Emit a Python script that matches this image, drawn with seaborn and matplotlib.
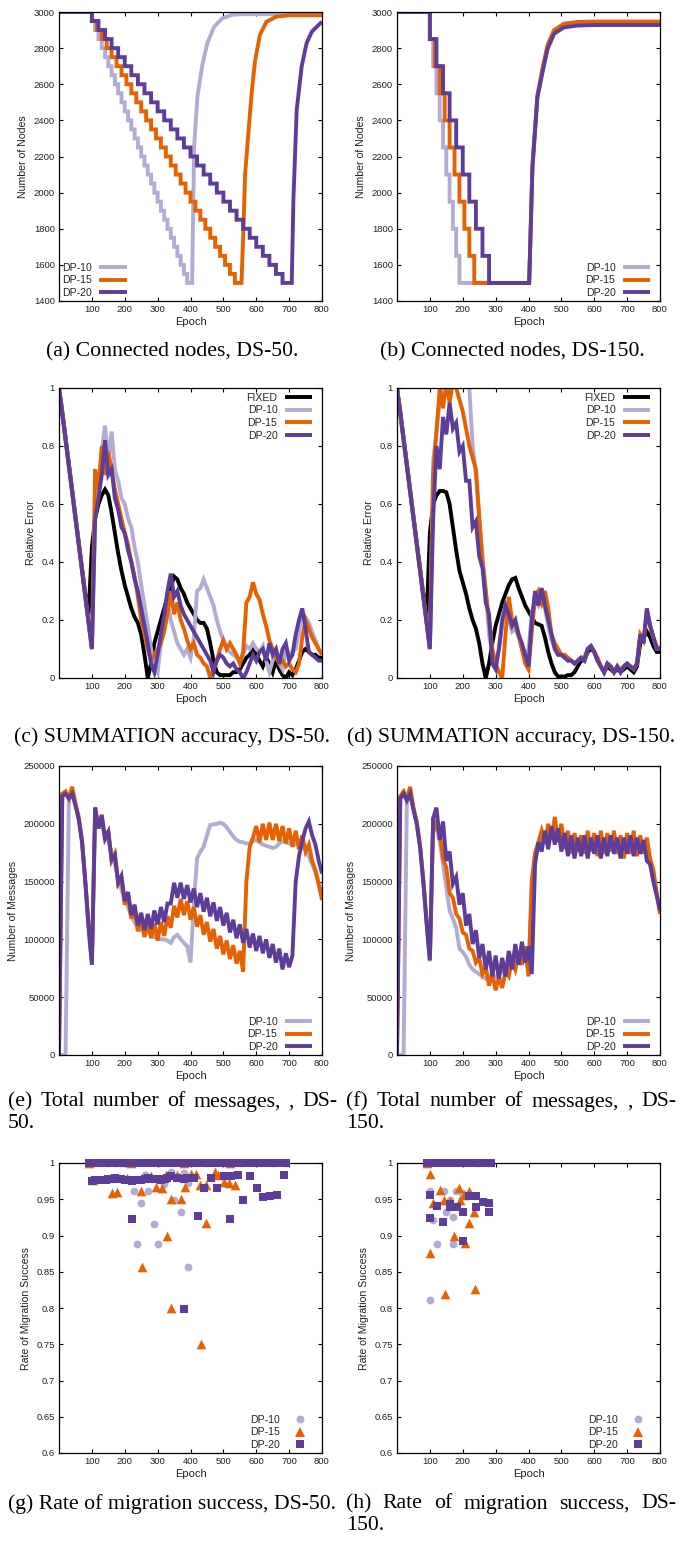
import matplotlib
matplotlib.use("Agg")
import matplotlib.pyplot as plt
from matplotlib.lines import Line2D
import seaborn as sns

sns.set_theme(style="white")
plt.rcParams['font.family'] = ['Liberation Sans', 'DejaVu Sans']

W, H = 688, 1543
C_DP10 = "#b2abd2"
C_DP15 = "#e66101"
C_DP20 = "#5e3c99"
C_FIXED = "#000000"
LW = 2.8

XTICKS = [100, 200, 300, 400, 500, 600, 700, 800]

# ---------------- (a) Connected nodes, DS-50 ----------------
LEVELS_50 = [3000, 2950, 2900, 2850, 2800, 2750, 2700, 2650, 2600, 2550, 2500,
             2450, 2400, 2350, 2300, 2250, 2200, 2150, 2100, 2050, 2000,
             1950, 1900, 1850, 1800, 1750, 1700, 1650, 1600, 1550, 1500]
A_STEPS_DP10 = [100, 110, 120, 130, 140, 150, 160, 170, 180, 190, 200, 210, 220, 230, 240,
                250, 260, 270, 280, 290, 300, 310, 320, 330, 340, 350, 360, 370, 380, 390]
A_STEPS_DP15 = [100, 115, 130, 145, 160, 175, 190, 205, 220, 235, 250, 265, 280, 295, 310,
                325, 340, 355, 370, 385, 400, 415, 430, 445, 460, 475, 490, 505, 520, 535]
A_STEPS_DP20 = [100, 120, 140, 160, 180, 200, 220, 240, 260, 280, 300, 320, 340, 360, 380,
                400, 420, 440, 460, 480, 500, 520, 540, 560, 580, 600, 620, 640, 660, 680]
A_RISE_DP10_E = [405, 411, 421, 436, 451, 472, 497, 527, 560, 800]
A_RISE_DP10_N = [1500, 2255, 2531, 2707, 2827, 2919, 2965, 2985, 2988, 2988]
A_RISE_DP15_E = [555, 561, 566, 576, 586, 596, 611, 631, 662, 700, 800]
A_RISE_DP15_N = [1500, 1793, 2100, 2328, 2550, 2725, 2873, 2946, 2975, 2982, 2982]
A_RISE_DP20_E = [708, 713, 723, 738, 753, 769, 785, 800]
A_RISE_DP20_N = [1500, 1960, 2458, 2697, 2827, 2891, 2920, 2946]

# ---------------- (b) Connected nodes, DS-150 ----------------
LEVELS_150 = [3000, 2850, 2700, 2550, 2400, 2250, 2100, 1950, 1800, 1650, 1500]
B_STEPS_DP10 = [100, 110, 120, 130, 140, 150, 160, 170, 180, 190]
B_STEPS_DP15 = [100, 115, 130, 145, 160, 175, 190, 205, 220, 235]
B_STEPS_DP20 = [100, 120, 140, 160, 180, 200, 220, 240, 260, 280]
B_RISE_E = [402, 412, 427, 443, 458, 478, 508, 549, 600, 800]
B_RISE_DP10_N = [1500, 2144, 2531, 2679, 2808, 2895, 2932, 2943, 2945, 2945]
B_RISE_DP15_N = [1500, 2150, 2540, 2690, 2818, 2900, 2935, 2945, 2947, 2947]
B_RISE_DP20_N = [1500, 2140, 2525, 2670, 2795, 2880, 2915, 2925, 2928, 2928]

# ---------------- shared epoch grid for noisy series ----------------
GRID = [0, 10, 20, 30, 40, 50, 60, 70, 80, 90,
        100, 110, 120, 130, 140, 150, 160, 170, 180, 190,
        200, 210, 220, 230, 240, 250, 260, 270, 280, 290,
        300, 310, 320, 330, 340, 350, 360, 370, 380, 390,
        400, 410, 420, 430, 440, 450, 460, 470, 480, 490,
        500, 510, 520, 530, 540, 550, 560, 570, 580, 590,
        600, 610, 620, 630, 640, 650, 660, 670, 680, 690,
        700, 710, 720, 730, 740, 750, 760, 770, 780, 790,
        800]

# ---------------- (c) SUMMATION accuracy, DS-50 ----------------
C_ERR_FIXED = [1.0, 0.92, 0.83, 0.74, 0.65, 0.56, 0.47, 0.38, 0.29, 0.22,
               0.45, 0.55, 0.6, 0.63, 0.65, 0.63, 0.57, 0.5, 0.43, 0.37,
               0.32, 0.28, 0.24, 0.21, 0.19, 0.15, 0.08, 0.0, 0.05, 0.12,
               0.16, 0.2, 0.24, 0.28, 0.31, 0.35, 0.34, 0.31, 0.29, 0.26,
               0.24, 0.22, 0.2, 0.19, 0.19, 0.17, 0.12, 0.06, 0.02, 0.01,
               0.01, 0.01, 0.01, 0.02, 0.02, 0.03, 0.05, 0.07, 0.08, 0.1,
               0.08, 0.06, 0.04, 0.07, 0.05, 0.02, 0.06, 0.03, 0.01, 0.0,
               0.02, 0.01, 0.03, 0.06, 0.09, 0.1, 0.09, 0.08, 0.08, 0.07,
               0.07]
C_ERR_DP10 = [1.0, 0.91, 0.82, 0.73, 0.64, 0.55, 0.46, 0.37, 0.28, 0.19,
              0.1, 0.55, 0.65, 0.78, 0.87, 0.75, 0.85, 0.72, 0.68, 0.62,
              0.6, 0.55, 0.52, 0.45, 0.4, 0.32, 0.25, 0.18, 0.1, 0.04,
              0.02, 0.12, 0.2, 0.26, 0.2, 0.16, 0.12, 0.1, 0.08, 0.1,
              0.07, 0.14, 0.3, 0.31, 0.34, 0.31, 0.28, 0.25, 0.2, 0.16,
              0.13, 0.1, 0.09, 0.08, 0.07, 0.06, 0.08, 0.11, 0.1, 0.12,
              0.1, 0.09, 0.11, 0.06, 0.02, 0.06, 0.1, 0.05, 0.03, 0.1,
              0.08, 0.09, 0.1, 0.16, 0.22, 0.21, 0.19, 0.16, 0.13, 0.1,
              0.08]
C_ERR_DP15 = [1.0, 0.91, 0.82, 0.73, 0.64, 0.55, 0.46, 0.37, 0.28, 0.19,
              0.1, 0.72, 0.65, 0.8, 0.7, 0.78, 0.72, 0.65, 0.6, 0.55,
              0.5, 0.46, 0.4, 0.35, 0.28, 0.2, 0.15, 0.1, 0.06, 0.08,
              0.1, 0.12, 0.16, 0.22, 0.3, 0.22, 0.26, 0.2, 0.17, 0.13,
              0.1, 0.12, 0.08, 0.07, 0.05, 0.04, 0.0, 0.03, 0.06, 0.1,
              0.13, 0.1, 0.12, 0.1, 0.08, 0.05, 0.09, 0.26, 0.28, 0.33,
              0.29, 0.27, 0.22, 0.18, 0.13, 0.1, 0.07, 0.05, 0.06, 0.04,
              0.05, 0.03, 0.02, 0.05, 0.14, 0.2, 0.17, 0.14, 0.12, 0.1,
              0.08]
C_ERR_DP20 = [1.0, 0.91, 0.82, 0.73, 0.64, 0.55, 0.46, 0.37, 0.28, 0.19,
              0.1, 0.55, 0.62, 0.7, 0.82, 0.7, 0.72, 0.62, 0.58, 0.52,
              0.5, 0.44, 0.4, 0.34, 0.3, 0.24, 0.18, 0.12, 0.05, 0.02,
              0.08, 0.15, 0.22, 0.3, 0.36, 0.28, 0.3, 0.25, 0.22, 0.2,
              0.18, 0.16, 0.14, 0.12, 0.1, 0.08, 0.06, 0.02, 0.06, 0.08,
              0.07, 0.05, 0.04, 0.05, 0.03, 0.02, 0.0, 0.02, 0.05, 0.08,
              0.06, 0.09, 0.1, 0.06, 0.12, 0.08, 0.1, 0.05, 0.1, 0.12,
              0.06, 0.08, 0.15, 0.2, 0.24, 0.17, 0.09, 0.08, 0.07, 0.06,
              0.06]

# ---------------- (d) SUMMATION accuracy, DS-150 ----------------
D_ERR_FIXED = [1.0, 0.92, 0.83, 0.74, 0.65, 0.56, 0.47, 0.38, 0.29, 0.2,
               0.5, 0.6, 0.63, 0.645, 0.645, 0.64, 0.6, 0.52, 0.44, 0.37,
               0.33, 0.29, 0.24, 0.2, 0.17, 0.12, 0.05, 0.0, 0.05, 0.12,
               0.18, 0.22, 0.26, 0.29, 0.32, 0.34, 0.345, 0.31, 0.28, 0.25,
               0.23, 0.21, 0.19, 0.185, 0.18, 0.14, 0.09, 0.05, 0.02, 0.005,
               0.005, 0.005, 0.01, 0.01, 0.02, 0.04, 0.06, 0.06, 0.09, 0.1,
               0.09, 0.06, 0.04, 0.02, 0.04, 0.03, 0.02, 0.03, 0.02, 0.03,
               0.04, 0.03, 0.02, 0.04, 0.12, 0.14, 0.16, 0.14, 0.11, 0.09,
               0.09]
D_ERR_DP10 = [1.0, 0.91, 0.82, 0.73, 0.64, 0.55, 0.46, 0.37, 0.28, 0.19,
              0.1, 0.75, 0.85, 0.95, 1.05, 1.1, 1.1, 1.1, 1.1, 1.1,
              1.1, 1.05, 1.0, 0.8, 0.7, 0.55, 0.42, 0.3, 0.15, 0.08,
              0.05, 0.1, 0.18, 0.24, 0.2, 0.16, 0.17, 0.14, 0.1, 0.06,
              0.1, 0.22, 0.27, 0.25, 0.28, 0.24, 0.18, 0.13, 0.1, 0.08,
              0.08, 0.07, 0.06, 0.06, 0.05, 0.06, 0.07, 0.06, 0.1, 0.11,
              0.09, 0.06, 0.04, 0.02, 0.05, 0.04, 0.02, 0.04, 0.02, 0.04,
              0.05, 0.04, 0.03, 0.05, 0.15, 0.12, 0.24, 0.18, 0.14, 0.1,
              0.1]
D_ERR_DP15 = [1.0, 0.91, 0.82, 0.73, 0.64, 0.55, 0.46, 0.37, 0.28, 0.19,
              0.1, 0.7, 0.85, 1.0, 0.93, 1.02, 0.95, 1.02, 1.0, 0.96,
              0.92, 0.86, 0.8, 0.76, 0.72, 0.56, 0.4, 0.3, 0.2, 0.1,
              0.05, 0.02, 0.0, 0.15, 0.28, 0.2, 0.18, 0.15, 0.1, 0.05,
              0.03, 0.16, 0.28, 0.3, 0.26, 0.3, 0.24, 0.15, 0.12, 0.1,
              0.08, 0.08, 0.07, 0.06, 0.05, 0.06, 0.07, 0.07, 0.1, 0.11,
              0.09, 0.07, 0.04, 0.02, 0.05, 0.04, 0.02, 0.04, 0.03, 0.04,
              0.05, 0.04, 0.03, 0.05, 0.15, 0.13, 0.23, 0.18, 0.14, 0.11,
              0.1]
D_ERR_DP20 = [1.0, 0.91, 0.82, 0.73, 0.64, 0.55, 0.46, 0.37, 0.28, 0.19,
              0.1, 0.55, 0.8, 0.72, 0.9, 0.84, 0.95, 0.86, 0.88, 0.78,
              0.8, 0.68, 0.68, 0.52, 0.54, 0.42, 0.38, 0.26, 0.22, 0.05,
              0.03, 0.1, 0.2, 0.25, 0.22, 0.18, 0.2, 0.15, 0.12, 0.08,
              0.04, 0.2, 0.3, 0.25, 0.31, 0.25, 0.2, 0.15, 0.1, 0.08,
              0.08, 0.07, 0.06, 0.06, 0.05, 0.06, 0.07, 0.06, 0.1, 0.11,
              0.09, 0.06, 0.04, 0.02, 0.05, 0.04, 0.02, 0.04, 0.02, 0.04,
              0.05, 0.04, 0.03, 0.05, 0.15, 0.12, 0.24, 0.18, 0.14, 0.1,
              0.1]

# ---------------- (e) Total number of messages, DS-50 ----------------
E_MSG_DP10 = [0, 0, 0, 222000, 226000, 216000, 204000, 185000, 150000, 112000,
              80000, 206000, 203000, 200000, 192000, 185000, 175000, 165000, 152000, 143000,
              135000, 128000, 120000, 115000, 110000, 108000, 107000, 106000, 104000, 102000,
              101000, 100000, 100000, 99000, 97000, 102000, 104000, 100000, 97000, 94000,
              80000, 130000, 170000, 176000, 180000, 190000, 199000, 199500, 200000, 201000,
              200000, 197000, 193000, 189000, 186000, 184500, 184000, 183000, 183000, 185000,
              186000, 184000, 182000, 181000, 180000, 179000, 180000, 183000, 185000, 184000,
              183000, 182000, 182000, 181000, 180000, 178000, 172000, 165000, 158000, 148000,
              140000]
E_MSG_DP15 = [0, 226000, 228000, 222000, 232000, 218000, 206000, 186000, 150000, 112000,
              80000, 214000, 196000, 208000, 186000, 194000, 168000, 174000, 148000, 152000,
              130000, 138000, 118000, 126000, 107000, 118000, 102000, 115000, 101000, 114000,
              99000, 115000, 103000, 120000, 110000, 129000, 119000, 135000, 121000, 133000,
              117000, 128000, 111000, 121000, 104000, 115000, 98000, 109000, 92000, 103000,
              87000, 99000, 83000, 95000, 79000, 90000, 72000, 150000, 180000, 188000,
              198000, 184000, 200000, 186000, 201000, 186000, 200000, 185000, 198000, 183000,
              196000, 180000, 194000, 178000, 190000, 176000, 182000, 168000, 160000, 148000,
              134000]
E_MSG_DP20 = [0, 224000, 226000, 222000, 226000, 216000, 204000, 184000, 150000, 110000,
              78000, 214000, 196000, 207000, 187000, 193000, 169000, 173000, 149000, 155000,
              133000, 141000, 121000, 130000, 112000, 123000, 108000, 122000, 109000, 125000,
              113000, 128000, 115000, 131000, 131000, 149000, 136000, 149000, 135000, 147000,
              132000, 144000, 128000, 140000, 124000, 136000, 120000, 132000, 116000, 128000,
              112000, 123000, 106000, 117000, 101000, 113000, 97000, 109000, 93000, 105000,
              90000, 103000, 88000, 100000, 84000, 96000, 80000, 92000, 74000, 88000,
              76000, 86000, 150000, 172000, 185000, 196000, 202000, 190000, 182000, 168000,
              157000]

# ---------------- (f) Total number of messages, DS-150 ----------------
F_MSG_DP10 = [0, 0, 0, 220000, 224000, 214000, 200000, 180000, 150000, 115000,
              81000, 200000, 195000, 185000, 165000, 145000, 125000, 118000, 110000, 92000,
              89000, 85000, 78000, 74000, 72000, 70000, 68000, 66000, 68000, 70000,
              68000, 70000, 72000, 74000, 78000, 80000, 82000, 84000, 85000, 86000,
              72000, 150000, 172000, 180000, 185000, 188000, 190000, 192000, 192000, 190000,
              188000, 186000, 185000, 184000, 184000, 183000, 183000, 184000, 184000, 183000,
              183000, 182000, 183000, 184000, 183000, 183000, 182000, 183000, 184000, 183000,
              182000, 183000, 183000, 182000, 182000, 180000, 175000, 165000, 150000, 138000,
              128000]
F_MSG_DP15 = [0, 224000, 228000, 222000, 232000, 214000, 202000, 182000, 152000, 116000,
              82000, 204000, 196000, 192000, 170000, 162000, 140000, 136000, 122000, 118000,
              106000, 104000, 92000, 90000, 80000, 84000, 70000, 76000, 60000, 70000,
              56000, 68000, 58000, 72000, 68000, 82000, 74000, 88000, 78000, 94000,
              68000, 150000, 175000, 184000, 194000, 183000, 200000, 186000, 206000, 184000,
              200000, 178000, 194000, 174000, 192000, 176000, 190000, 174000, 194000, 176000,
              192000, 172000, 194000, 174000, 192000, 176000, 194000, 174000, 190000, 170000,
              192000, 174000, 194000, 172000, 190000, 174000, 188000, 170000, 160000, 140000,
              122000]
F_MSG_DP20 = [0, 222000, 226000, 220000, 226000, 212000, 200000, 180000, 150000, 114000,
              82000, 205000, 214000, 186000, 202000, 168000, 176000, 148000, 154000, 130000,
              140000, 112000, 122000, 96000, 108000, 84000, 96000, 74000, 90000, 68000,
              86000, 66000, 84000, 68000, 90000, 74000, 96000, 78000, 98000, 80000,
              94000, 70000, 165000, 184000, 176000, 194000, 178000, 198000, 182000, 196000,
              176000, 192000, 172000, 190000, 170000, 188000, 172000, 190000, 170000, 188000,
              174000, 190000, 170000, 188000, 172000, 190000, 174000, 188000, 170000, 188000,
              174000, 190000, 172000, 188000, 174000, 186000, 168000, 165000, 150000, 138000,
              125000]

# ---------------- (g) Rate of migration success, DS-50 ----------------
G_DP10_E = [90, 110, 130, 150, 160, 170, 190, 210, 229, 236, 250, 261, 271, 290, 301, 320,
            340, 350, 371, 380, 391, 391, 400, 450, 500, 550, 600, 650, 690]
G_DP10_R = [1, 1, 1, 1, 0.978, 1, 1, 1, 0.961, 0.888, 0.945, 0.984, 0.961, 0.916, 0.888, 0.971,
            0.987, 0.949, 0.933, 0.986, 0.856, 0.972, 1, 1, 1, 1, 1, 1, 1]
G_DP15_E = [90, 104, 160, 175, 206, 219, 250, 251, 280, 294, 312, 325, 327, 340, 342, 358,
            370, 381, 384, 402, 417, 429, 432, 446, 447, 475, 485, 502, 518, 520, 535]
G_DP15_R = [1, 0.977, 0.959, 0.96, 0.979, 1.0, 0.962, 0.857, 0.982, 0.967, 0.966, 0.984, 0.9,
            0.95, 0.8, 0.983, 0.95, 1.0, 0.967, 0.985, 0.985, 0.969, 0.75, 0.97, 0.917, 0.987,
            0.984, 0.974, 0.973, 1.0, 0.969]
G_DP20_E = [90, 100, 110, 120, 130, 140, 150, 160, 170, 180, 190, 200, 210, 220, 230, 240,
            250, 260, 270, 280, 290, 300, 310, 320, 330, 340, 350, 360, 370, 380, 390, 400,
            410, 420, 430, 440, 450, 460, 470, 480, 490, 500, 510, 520, 530, 540, 550, 560,
            570, 580, 590, 600, 610, 620, 630, 640, 650, 660, 670, 680, 690,
            101, 110, 122, 130, 142, 150, 160, 170, 180, 190, 201, 210, 221, 222, 230, 241,
            250, 262, 270, 280, 290, 300, 310, 321, 330, 340, 360, 380, 381, 390, 402, 410,
            422, 441, 461, 482, 501, 522, 521, 543, 561, 581, 601, 622, 642, 662, 683]
G_DP20_R = [1, 1, 1, 1, 1, 1, 1, 1, 1, 1, 1, 1, 1, 1, 1, 1,
            1, 1, 1, 1, 1, 1, 1, 1, 1, 1, 1, 1, 1, 1, 1, 1,
            1, 1, 1, 1, 1, 1, 1, 1, 1, 1, 1, 1, 1, 1, 1, 1,
            1, 1, 1, 1, 1, 1, 1, 1, 1, 1, 1, 1, 1,
            0.975, 0.976, 0.976, 0.977, 0.977, 0.978, 0.978, 0.979, 0.978, 0.978, 0.977, 0.976,
            0.975, 0.923, 0.976, 0.977, 0.977, 0.978, 0.979, 0.978, 0.978, 0.978, 0.977, 0.978,
            0.979, 0.982, 0.98, 0.799, 0.978, 0.98, 0.979, 0.98, 0.927, 0.965, 0.98, 0.965,
            0.982, 0.982, 0.923, 0.983, 0.949, 0.982, 0.966, 0.953, 0.954, 0.956, 0.983]

# ---------------- (h) Rate of migration success, DS-150 ----------------
H_DP10_E = [90, 101, 101, 111, 121, 142, 150, 160, 170, 171, 180, 199, 200, 250, 280]
H_DP10_R = [1, 0.961, 0.811, 0.922, 0.888, 0.961, 0.933, 0.949, 0.926, 0.888, 0.961, 0.959,
            1, 1, 1]
H_DP15_E = [90, 101, 101, 111, 131, 142, 145, 160, 173, 190, 191, 205, 206, 219, 220, 235, 236]
H_DP15_R = [1, 0.985, 0.876, 0.945, 0.963, 0.949, 0.819, 0.947, 0.899, 0.965, 0.949, 0.956,
            0.889, 0.962, 0.917, 0.933, 0.826]
H_DP20_E = [90, 100, 110, 120, 130, 140, 150, 160, 170, 180, 190, 200, 210, 220, 230, 240,
            250, 260, 270, 280, 285,
            101, 101, 121, 141, 161, 181, 200, 200, 220, 240, 240, 261, 280, 280, 160, 170]
H_DP20_R = [1, 1, 1, 1, 1, 1, 1, 1, 1, 1, 1, 1, 1, 1, 1, 1,
            1, 1, 1, 1, 1,
            0.956, 0.924, 0.941, 0.919, 0.939, 0.939, 0.933, 0.893, 0.955, 0.954, 0.94, 0.946,
            0.945, 0.933, 0.943, 0.94]

LABELS = ["DP-10", "DP-15", "DP-20"]

fig = plt.figure(figsize=(W / 100, H / 100), dpi=100)
fig.patch.set_facecolor("white")


def make_axes(left, top, right, bottom):
    return fig.add_axes([left / W, 1 - bottom / H, (right - left) / W, (bottom - top) / H])


def staircase(steps, levels, rise_e, rise_n):
    xs, ys = [0], [levels[0]]
    for i, e in enumerate(steps):
        xs += [e, e]
        ys += [levels[i], levels[i + 1]]
    xs += rise_e
    ys += rise_n
    return xs, ys


def draw_line(ax, x, y, color):
    sns.lineplot(x=x, y=y, color=color, lw=LW, ax=ax, sort=False, estimator=None,
                 legend=False, solid_joinstyle="miter", solid_capstyle="butt")


def style_axes(ax, ylim, yticks, yticklabels, ylabel):
    ax.set_xlim(0, 800)
    ax.set_xticks(XTICKS)
    ax.set_xticklabels([str(v) for v in XTICKS])
    ax.set_ylim(*ylim)
    ax.set_yticks(yticks)
    ax.set_yticklabels(yticklabels)
    ax.tick_params(axis="both", which="major", direction="in", length=2.6, width=0.8,
                   top=True, right=True, bottom=True, left=True,
                   labelsize=6.8, pad=3, labelcolor="#222222", color="black")
    ax.set_xlabel("Epoch", fontsize=8, labelpad=2, color="#222222")
    ax.set_ylabel(ylabel, fontsize=7.6, labelpad=4, color="#222222")
    for s in ax.spines.values():
        s.set_visible(True)
        s.set_color("black")
        s.set_linewidth(0.9)
    ax.grid(False)
    ax.set_facecolor("white")


def line_legend(ax, labels, colors, loc, anchor):
    handles = [Line2D([], [], color=c, lw=LW, solid_capstyle="butt") for c in colors]
    ax.legend(handles, labels, loc=loc, bbox_to_anchor=anchor, frameon=False,
              markerfirst=False, fontsize=7.6, handlelength=2.6, handletextpad=0.7,
              labelspacing=0.25, borderaxespad=0.0, borderpad=0.3)


def marker_legend(ax, loc, anchor):
    handles = [
        Line2D([], [], marker="o", ls="none", color=C_DP10, markersize=5.6, markeredgewidth=0),
        Line2D([], [], marker="^", ls="none", color=C_DP15, markersize=7, markeredgewidth=0),
        Line2D([], [], marker="s", ls="none", color=C_DP20, markersize=5.1, markeredgewidth=0),
    ]
    ax.legend(handles, LABELS, loc=loc, bbox_to_anchor=anchor, frameon=False,
              markerfirst=False, fontsize=7.6, handlelength=2.0, handletextpad=0.9,
              labelspacing=0.25, borderaxespad=0.0, borderpad=0.3)


NODE_TICKS = [1400, 1600, 1800, 2000, 2200, 2400, 2600, 2800, 3000]
ERR_TICKS = [0, 0.2, 0.4, 0.6, 0.8, 1.0]
ERR_LABELS = ["0", "0.2", "0.4", "0.6", "0.8", "1"]
MSG_TICKS = [0, 50000, 100000, 150000, 200000, 250000]
RATE_TICKS = [0.6, 0.65, 0.7, 0.75, 0.8, 0.85, 0.9, 0.95, 1.0]
RATE_LABELS = ["0.6", "0.65", "0.7", "0.75", "0.8", "0.85", "0.9", "0.95", "1"]
S_CIRCLE, S_TRI, S_SQUARE = 31, 48, 26

# (a)
ax = make_axes(59, 12, 322, 301)
for steps, re, rn, c in [(A_STEPS_DP10, A_RISE_DP10_E, A_RISE_DP10_N, C_DP10),
                         (A_STEPS_DP15, A_RISE_DP15_E, A_RISE_DP15_N, C_DP15),
                         (A_STEPS_DP20, A_RISE_DP20_E, A_RISE_DP20_N, C_DP20)]:
    xs, ys = staircase(steps, LEVELS_50, re, rn)
    draw_line(ax, xs, ys, c)
style_axes(ax, (1400, 3000), NODE_TICKS, [str(v) for v in NODE_TICKS], "Number of Nodes")
line_legend(ax, LABELS, [C_DP10, C_DP15, C_DP20], "lower left", (0.0, 0.0))

# (b)
ax = make_axes(397, 12, 660, 301)
for steps, rn, c in [(B_STEPS_DP10, B_RISE_DP10_N, C_DP10),
                     (B_STEPS_DP15, B_RISE_DP15_N, C_DP15),
                     (B_STEPS_DP20, B_RISE_DP20_N, C_DP20)]:
    xs, ys = staircase(steps, LEVELS_150, B_RISE_E, rn)
    draw_line(ax, xs, ys, c)
style_axes(ax, (1400, 3000), NODE_TICKS, [str(v) for v in NODE_TICKS], "Number of Nodes")
line_legend(ax, LABELS, [C_DP10, C_DP15, C_DP20], "lower right", (0.975, 0.0))

# (c)
ax = make_axes(59, 388, 322, 678)
for ys, c in [(C_ERR_FIXED, C_FIXED), (C_ERR_DP10, C_DP10), (C_ERR_DP15, C_DP15), (C_ERR_DP20, C_DP20)]:
    draw_line(ax, GRID, ys, c)
style_axes(ax, (0, 1), ERR_TICKS, ERR_LABELS, "Relative Error")
line_legend(ax, ["FIXED"] + LABELS, [C_FIXED, C_DP10, C_DP15, C_DP20], "upper right", (0.975, 0.995))

# (d)
ax = make_axes(397, 388, 660, 678)
for ys, c in [(D_ERR_FIXED, C_FIXED), (D_ERR_DP10, C_DP10), (D_ERR_DP15, C_DP15), (D_ERR_DP20, C_DP20)]:
    draw_line(ax, GRID, ys, c)
style_axes(ax, (0, 1), ERR_TICKS, ERR_LABELS, "Relative Error")
line_legend(ax, ["FIXED"] + LABELS, [C_FIXED, C_DP10, C_DP15, C_DP20], "upper right", (0.975, 0.995))

# (e)
ax = make_axes(59, 766, 322, 1055)
for ys, c in [(E_MSG_DP10, C_DP10), (E_MSG_DP15, C_DP15), (E_MSG_DP20, C_DP20)]:
    draw_line(ax, GRID, ys, c)
style_axes(ax, (0, 250000), MSG_TICKS, [str(v) for v in MSG_TICKS], "Number of Messages")
line_legend(ax, LABELS, [C_DP10, C_DP15, C_DP20], "lower right", (0.975, 0.0))

# (f)
ax = make_axes(397, 766, 660, 1055)
for ys, c in [(F_MSG_DP10, C_DP10), (F_MSG_DP15, C_DP15), (F_MSG_DP20, C_DP20)]:
    draw_line(ax, GRID, ys, c)
style_axes(ax, (0, 250000), MSG_TICKS, [str(v) for v in MSG_TICKS], "Number of Messages")
line_legend(ax, LABELS, [C_DP10, C_DP15, C_DP20], "lower right", (0.975, 0.0))

# (g)
ax = make_axes(59, 1163, 322, 1453)
sns.scatterplot(x=G_DP10_E, y=G_DP10_R, marker="o", s=S_CIRCLE, color=C_DP10, linewidth=0, ax=ax, clip_on=False, zorder=3)
sns.scatterplot(x=G_DP15_E, y=G_DP15_R, marker="^", s=S_TRI, color=C_DP15, linewidth=0, ax=ax, clip_on=False, zorder=3)
sns.scatterplot(x=G_DP20_E, y=G_DP20_R, marker="s", s=S_SQUARE, color=C_DP20, linewidth=0, ax=ax, clip_on=False, zorder=3)
style_axes(ax, (0.6, 1.0), RATE_TICKS, RATE_LABELS, "Rate of Migration Success")
marker_legend(ax, "lower right", (0.97, 0.0))

# (h)
ax = make_axes(397, 1163, 660, 1453)
sns.scatterplot(x=H_DP10_E, y=H_DP10_R, marker="o", s=S_CIRCLE, color=C_DP10, linewidth=0, ax=ax, clip_on=False, zorder=3)
sns.scatterplot(x=H_DP15_E, y=H_DP15_R, marker="^", s=S_TRI, color=C_DP15, linewidth=0, ax=ax, clip_on=False, zorder=3)
sns.scatterplot(x=H_DP20_E, y=H_DP20_R, marker="s", s=S_SQUARE, color=C_DP20, linewidth=0, ax=ax, clip_on=False, zorder=3)
style_axes(ax, (0.6, 1.0), RATE_TICKS, RATE_LABELS, "Rate of Migration Success")
marker_legend(ax, "lower right", (0.97, 0.0))

# ---------------- captions ----------------
CAP = dict(fontfamily="Liberation Serif", fontsize=15.7, color="black", va="center")
renderer = fig.canvas.get_renderer()


def caption_center(text, xc, y):
    fig.text(xc / W, 1 - y / H, text, ha="center", **CAP)


def caption_left(text, x, y):
    fig.text(x / W, 1 - y / H, text, ha="left", **CAP)


def caption_justified(text, x0, x1, y):
    words = text.split(" ")
    texts = [fig.text(0, 1 - y / H, w, ha="left", **CAP) for w in words]
    widths = [t.get_window_extent(renderer).width for t in texts]
    gap = (x1 - x0 - sum(widths)) / (len(words) - 1)
    x = x0
    for t, wd in zip(texts, widths):
        t.set_x(x / W)
        x += wd + gap


caption_center("(a) Connected nodes, DS-50.", 172, 352)
caption_center("(b) Connected nodes, DS-150.", 512, 352)
caption_center("(c) SUMMATION accuracy, DS-50.", 172, 737)
caption_center("(d) SUMMATION accuracy, DS-150.", 511, 737)
caption_justified("(e) Total number of messages, , DS-", 8, 337, 1102)
caption_left("50.", 8, 1124)
caption_justified("(f) Total number of messages, , DS-", 346, 676, 1102)
caption_left("150.", 346, 1124)
caption_center("(g) Rate of migration success, DS-50.", 172, 1504)
caption_justified("(h) Rate of migration success, DS-", 346, 676, 1504)
caption_left("150.", 346, 1526)

fig.savefig("out.png", dpi=100, facecolor="white")
